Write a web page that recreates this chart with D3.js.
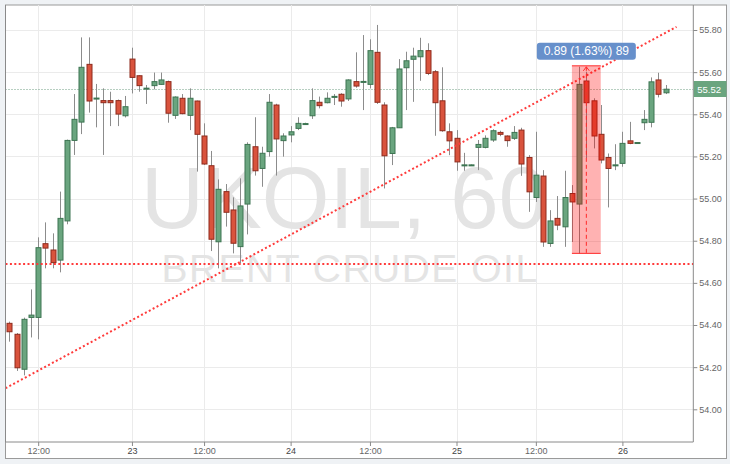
<!DOCTYPE html>
<html><head><meta charset="utf-8">
<script src="https://cdn.jsdelivr.net/npm/d3@7/dist/d3.min.js"></script>
<style>
html,body{margin:0;padding:0;background:#eff2f5;}
svg{display:block;}
text{font-family:"Liberation Sans",Arial,sans-serif;}
</style></head>
<body>
<svg id="chart" width="730" height="464"></svg>
<script>
// ---- data (hourly candles, index 0..91) ----
const open  = [54.408,54.356,54.19,54.436,54.436,54.786,54.756,54.708,54.894,55.276,
               55.363,55.637,55.476,55.465,55.465,55.465,55.393,55.662,55.583,55.523,
               55.536,55.542,55.555,55.395,55.476,55.395,55.463,55.297,55.156,54.795,
               55.033,54.946,54.772,54.974,55.246,55.143,55.223,55.444,55.275,55.302,
               55.333,55.355,55.393,55.457,55.455,55.484,55.495,55.473,55.555,55.555,
               55.542,55.694,55.444,55.214,55.336,55.621,55.661,55.673,55.702,55.602,
               55.464,55.317,55.286,55.159,55.159,55.243,55.243,55.278,55.314,55.297,
               55.286,55.325,55.195,55.005,55.107,54.787,54.906,54.866,55.024,54.974,
               55.558,55.464,55.305,55.195,55.159,55.167,55.274,55.265,55.36,55.362,
               55.563,55.502];
const high  = [54.416,54.362,54.435,54.569,54.816,54.887,54.835,55.033,55.28,55.496,
               55.765,55.765,55.544,55.523,55.507,55.47,55.487,55.716,55.585,55.539,
               55.598,55.598,55.56,55.485,55.496,55.523,55.465,55.357,55.226,55.091,
               55.069,55.006,55.096,55.267,55.386,55.246,55.496,55.45,55.31,55.344,
               55.386,55.36,55.523,55.484,55.504,55.496,55.50,55.566,55.694,55.776,
               55.756,55.824,55.457,55.34,55.662,55.697,55.716,55.763,55.737,55.61,
               55.623,55.357,55.325,55.217,55.162,55.278,55.30,55.329,55.322,55.30,
               55.344,55.336,55.206,55.317,55.135,54.945,55.012,55.132,55.064,55.626,
               55.602,55.476,55.444,55.214,55.258,55.317,55.364,55.267,55.42,55.575,
               55.597,55.539];
const low   = [54.321,54.182,54.161,54.341,54.332,54.669,54.669,54.65,54.878,55.207,
               55.306,55.408,55.338,55.207,55.344,55.344,55.385,55.499,55.507,55.449,
               55.518,55.539,55.36,55.378,55.40,55.325,55.128,55.16,54.751,54.669,
               54.867,54.74,54.693,54.83,55.109,55.056,55.199,55.109,55.199,55.267,
               55.325,55.35,55.378,55.428,55.452,55.444,55.436,55.463,55.526,55.42,
               55.523,55.449,55.048,55.159,55.336,55.42,55.459,55.559,55.586,55.298,
               55.317,55.206,55.132,55.132,55.156,55.135,55.238,55.269,55.296,55.246,
               55.278,55.108,54.937,54.984,54.771,54.771,54.85,54.771,54.794,54.739,
               55.192,55.238,55.167,54.958,55.135,55.151,55.258,55.264,55.325,55.338,
               55.48,55.496];
const close = [54.368,54.197,54.427,54.447,54.767,54.765,54.696,54.906,55.276,55.376,
               55.623,55.463,55.477,55.455,55.455,55.401,55.436,55.575,55.536,55.524,
               55.555,55.563,55.405,55.482,55.403,55.476,55.305,55.164,54.807,55.044,
               54.935,54.788,54.965,55.257,55.132,55.215,55.457,55.283,55.297,55.317,
               55.357,55.356,55.465,55.441,55.476,55.485,55.463,55.563,55.534,55.556,
               55.702,55.457,55.203,55.336,55.615,55.654,55.676,55.702,55.594,55.455,
               55.322,55.274,55.174,55.160,55.160,55.257,55.286,55.322,55.305,55.275,
               55.314,55.164,55.032,55.111,54.794,54.894,54.874,55.005,54.984,55.542,
               55.455,55.297,55.183,55.143,55.160,55.262,55.262,55.266,55.376,55.554,
               55.495,55.519];

const xTickIdx    = [4, 17, 27, 39, 50, 62, 73, 85];
const xTickLabels = ["12:00","23","12:00","24","12:00","25","12:00","26"];
const yTicks      = [54.0,54.2,54.4,54.6,54.8,55.0,55.2,55.4,55.6,55.8];

const lastPrice   = 55.52;
const hLineLevel  = 54.69;
const trendStart  = {i:-0.53, v:54.10};
const trendEnd    = {i:92.5,  v:55.815};
const measure     = {i0:78, i1:82, iMid:80, hi:55.63, lo:54.74, label:"0.89 (1.63%) 89"};

// ---- layout ----
const svg = d3.select("#chart");
const L = 5.5, R = 693.3, T = 5, B = 442;
const x = d3.scaleLinear().domain([-0.53, 94.83]).range([L, R]);
const y = d3.scaleLinear().domain([54.0, 55.8]).range([409.3, 30]);

const GREEN = "#6aa57f", GREEN_D = "#3d7552", RED = "#d9533d", RED_D = "#8e2b1d";

// panel
svg.append("rect").attr("x",L).attr("y",T).attr("width",726.5-L).attr("height",458.5-T)
   .attr("fill","#fff").attr("stroke","#9a9a9a").attr("stroke-width",1);

svg.append("defs").append("clipPath").attr("id","plotclip")
   .append("rect").attr("x",L).attr("y",T).attr("width",R-L).attr("height",B-T);

const plot = svg.append("g").attr("clip-path","url(#plotclip)");

// grid
plot.selectAll(".gy").data(yTicks).enter().append("line")
  .attr("x1",L).attr("x2",R).attr("y1",d=>Math.round(y(d))+0.5).attr("y2",d=>Math.round(y(d))+0.5)
  .attr("stroke","#ebebeb").attr("stroke-width",1);
plot.selectAll(".gx").data(xTickIdx).enter().append("line")
  .attr("y1",T).attr("y2",B).attr("x1",d=>Math.round(x(d))+0.5).attr("x2",d=>Math.round(x(d))+0.5)
  .attr("stroke","#ebebeb").attr("stroke-width",1);

// watermark
plot.append("text").attr("x",344).attr("y",228).attr("text-anchor","middle")
  .attr("font-size",87).attr("fill","#e4e4e4").text("UKOIL, 60");
plot.append("text").attr("x",350).attr("y",282).attr("text-anchor","middle")
  .attr("font-size",39).attr("letter-spacing",1.5).attr("fill","#e4e4e4").text("BRENT CRUDE OIL");

// last price line
plot.append("line").attr("x1",L).attr("x2",R)
  .attr("y1",Math.round(y(lastPrice))+0.5).attr("y2",Math.round(y(lastPrice))+0.5)
  .attr("stroke","#6f9f82").attr("stroke-width",1).attr("stroke-dasharray","1,2");

// candles
const idx = d3.range(open.length);
const cw = 5;
plot.selectAll(".wick").data(idx).enter().append("line")
  .attr("x1",i=>Math.round(x(i))+0.5).attr("x2",i=>Math.round(x(i))+0.5)
  .attr("y1",i=>y(high[i])).attr("y2",i=>y(low[i]))
  .attr("stroke","#8c8c8c").attr("stroke-width",1);
plot.selectAll(".body").data(idx).enter().append("rect")
  .attr("x",i=>Math.round(x(i))-2)
  .attr("y",i=>y(Math.max(open[i],close[i])))
  .attr("width",cw)
  .attr("height",i=>Math.max(1, Math.abs(y(open[i])-y(close[i]))))
  .attr("fill",i=>close[i]>=open[i]?GREEN:RED)
  .attr("stroke",i=>close[i]>=open[i]?GREEN_D:RED_D)
  .attr("stroke-width",1);

// horizontal red dotted level
plot.append("line").attr("x1",L).attr("x2",R).attr("y1",y(hLineLevel)).attr("y2",y(hLineLevel))
  .attr("stroke","#ff3b3b").attr("stroke-width",2).attr("stroke-dasharray","2,2.4");

// trend line
plot.append("line").attr("x1",x(trendStart.i)).attr("y1",y(trendStart.v))
  .attr("x2",x(trendEnd.i)).attr("y2",y(trendEnd.v))
  .attr("stroke","#ff3b3b").attr("stroke-width",2).attr("stroke-dasharray","2,2.4");

// measure rectangle
const mx0 = x(measure.i0), mx1 = x(measure.i1), my0 = y(measure.hi), my1 = y(measure.lo);
plot.append("rect").attr("x",mx0).attr("y",my0).attr("width",mx1-mx0).attr("height",my1-my0)
  .attr("fill","rgba(255,0,0,0.3)");
plot.append("line").attr("x1",mx0).attr("x2",mx1).attr("y1",my0).attr("y2",my0)
  .attr("stroke","#ff2a2a").attr("stroke-width",1);
plot.append("line").attr("x1",mx0).attr("x2",mx1).attr("y1",my1).attr("y2",my1)
  .attr("stroke","#ff2a2a").attr("stroke-width",1);
const mxm = x(measure.iMid);
plot.append("line").attr("x1",mxm).attr("x2",mxm).attr("y1",my0+1).attr("y2",my1)
  .attr("stroke","#ff2a2a").attr("stroke-width",1).attr("stroke-dasharray","4,3");
plot.append("path").attr("d",`M${mxm-3},${my0+5}L${mxm},${my0+1}L${mxm+3},${my0+5}`)
  .attr("fill","none").attr("stroke","#ff2a2a").attr("stroke-width",1);

// measure label
const lbl = plot.append("g");
lbl.append("rect").attr("x",mxm-49.5).attr("y",my0-23).attr("width",99).attr("height",17)
  .attr("rx",3).attr("fill","#6790cb");
lbl.append("text").attr("x",mxm).attr("y",my0-10.5).attr("text-anchor","middle")
  .attr("font-size",12).attr("fill","#fff").text(measure.label);

// plot border (left, bottom, right)
svg.append("path").attr("d",`M${L},${T}V${B}H${R}V${T}`).attr("fill","none")
  .attr("stroke","#8a8a8a").attr("stroke-width",1);

// axes
const xAxis = svg.append("g").attr("transform",`translate(0,${B})`)
  .call(d3.axisBottom(x).tickValues(xTickIdx).tickFormat((d,i)=>xTickLabels[i]).tickSize(4).tickPadding(2));
xAxis.select(".domain").remove();
xAxis.selectAll(".tick line").attr("stroke","#8a8a8a");
xAxis.selectAll(".tick text").attr("font-size",9).attr("fill",(d,i)=>xTickLabels[i].length<3?"#444":"#666")
  .style("font-family","'Liberation Sans',Arial,sans-serif");

const yAxis = svg.append("g").attr("transform",`translate(${R},0)`)
  .call(d3.axisRight(y).tickValues(yTicks).tickFormat(d3.format(".2f")).tickSize(4).tickPadding(2));
yAxis.select(".domain").remove();
yAxis.selectAll(".tick line").attr("stroke","#8a8a8a");
yAxis.selectAll(".tick text").attr("font-size",9).attr("fill","#666")
  .style("font-family","'Liberation Sans',Arial,sans-serif");

// last price tag
const py = y(lastPrice);
svg.append("rect").attr("x",R+0.5).attr("y",py-8).attr("width",726-R).attr("height",16).attr("fill","#6aa57f");
svg.append("text").attr("x",R+4).attr("y",py+3.5).attr("font-size",9.5).attr("fill","#fff")
  .text(d3.format(".2f")(lastPrice));
</script>
</body></html>
